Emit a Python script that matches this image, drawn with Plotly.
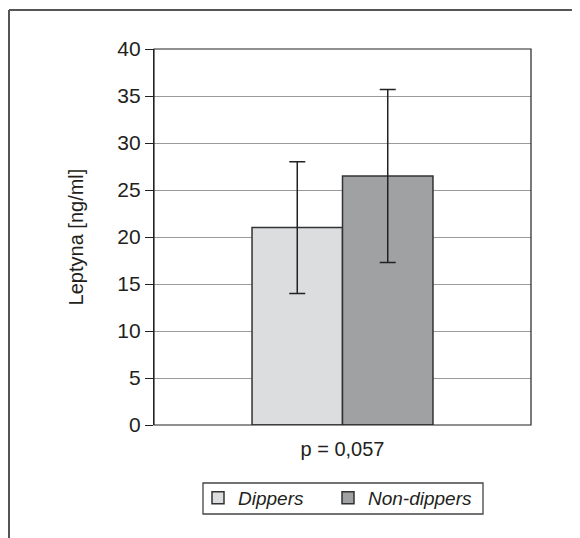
import plotly.graph_objects as go

categories = ["p = 0,057"]
series_names = ["Dippers", "Non-dippers"]
dippers_mean = [21.0]
dippers_err = [7.0]
nondippers_mean = [26.5]
nondippers_err = [9.2]
y_ticks = [0, 5, 10, 15, 20, 25, 30, 35, 40]

W, H = 580, 538
OFF = 8  # page body margin
L, T = 154 - OFF, 49 - OFF
R, B = W - (531 - OFF), H - (425 - OFF)
pw, ph = W - L - R, H - T - B

FONT = "Liberation Sans, Arial, sans-serif"

fig = go.Figure()
fig.add_trace(go.Bar(
    name=series_names[0], x=categories, y=dippers_mean, legend="legend",
    marker=dict(color="#dcdddf", line=dict(color="#333333", width=1.5)),
    error_y=dict(type="data", array=dippers_err, color="#222222", thickness=1.5, width=8),
))
fig.add_trace(go.Bar(
    name=series_names[1], x=categories, y=nondippers_mean, legend="legend2",
    marker=dict(color="#a0a1a3", line=dict(color="#333333", width=1.5)),
    error_y=dict(type="data", array=nondippers_err, color="#222222", thickness=1.5, width=8),
))

def px_x(x):
    return (x - OFF - L) / pw

def px_y(y):
    return 1 - (y - OFF - T) / ph

shapes = [
    # outer frame (top and left edges)
    dict(type="line", xref="paper", yref="paper", x0=px_x(9), x1=px_x(590), y0=px_y(10), y1=px_y(10),
         line=dict(color="#555555", width=2)),
    dict(type="line", xref="paper", yref="paper", x0=px_x(9), x1=px_x(9), y0=px_y(10), y1=px_y(560),
         line=dict(color="#555555", width=2)),
    # plot area border
    dict(type="rect", xref="paper", yref="paper", x0=0, x1=1, y0=0, y1=1,
         line=dict(color="#222222", width=1.2), layer="above"),
    # legend box
    dict(type="rect", xref="paper", yref="paper", x0=px_x(203), x1=px_x(483), y0=px_y(483), y1=px_y(514),
         line=dict(color="#444444", width=1.3)),
]

legend_common = dict(
    orientation="h", xanchor="left", y=px_y(479), yanchor="top",
    borderwidth=0, bgcolor="rgba(0,0,0,0)",
    font=dict(family=FONT, size=19, style="italic", color="#231f20"),
)

fig.update_layout(
    width=W, height=H,
    margin=dict(l=L, r=R, t=T, b=B),
    paper_bgcolor="white", plot_bgcolor="white",
    barmode="group", bargap=0.52, bargroupgap=0,
    font=dict(family=FONT, size=20, color="#231f20"),
    showlegend=True,
    legend=dict(x=px_x(198), **legend_common),
    legend2=dict(x=px_x(328), **legend_common),
    xaxis=dict(showline=False, ticks="", showgrid=False, tickfont=dict(size=20),
               ticklabelstandoff=10),
    yaxis=dict(
        range=[0, 40], tickvals=y_ticks, ticks="outside", ticklen=8, tickcolor="#222222",
        showline=True, linecolor="#222222", linewidth=1.2,
        showgrid=True, gridcolor="#9a9a9a", gridwidth=1,
        zeroline=False, tickfont=dict(size=21),
        title=dict(text="Leptyna [ng/ml]", font=dict(size=20), standoff=28),
    ),
    shapes=shapes,
)

fig.write_html("out.html")
